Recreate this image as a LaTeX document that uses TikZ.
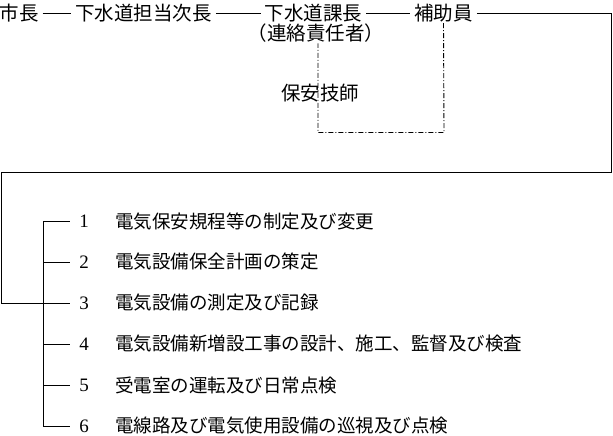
\documentclass[tikz,border=0pt]{standalone}
\usepackage{fontspec}
\newfontfamily\jp{Noto Sans CJK JP}
\newfontfamily\digitfont{Liberation Serif}
\begin{document}
\begin{tikzpicture}[x=1pt,y=1pt,
  top/.style={font=\jp\fontsize{19.5}{19.5}\selectfont, inner xsep=4pt, inner ysep=1pt},
  item/.style={font=\jp\fontsize{18.5}{18.5}\selectfont, anchor=west, inner sep=0pt},
  num/.style={font=\digitfont\fontsize{19}{19}\selectfont, minimum width=28pt, inner sep=0pt},
  conn/.style={line width=0.9pt},
  dashconn/.style={line width=0.9pt, dash pattern=on 5pt off 2pt on 1pt off 2pt}]
\useasboundingbox (0,0) rectangle (613,-436);
% top row
\node[top] (mayor) at (19,-13) {市長};
\node[top] (deputy) at (143.5,-13) {下水道担当次長};
\node[top] (chief) at (313.5,-13) {下水道課長};
\node[top] (asst) at (443.5,-13) {補助員};
\node[top] (liaison) at (316,-33) {（連絡責任者）};
\node[top] (eng) at (320,-93) {保安技師};
\draw[conn] (mayor) -- (deputy);
\draw[conn] (deputy) -- (chief);
\draw[conn] (chief) -- (asst);
% loop to list
\coordinate (tr) at (611.5,-13);
\coordinate (br) at (611.5,-172.5);
\coordinate (bl) at (1.5,-172.5);
\coordinate (ll) at (1.5,-303);
\coordinate (b1) at (43,-221);
\coordinate (b2) at (43,-262);
\coordinate (b3) at (43,-303);
\coordinate (b4) at (43,-344);
\coordinate (b5) at (43,-385);
\coordinate (b6) at (43,-426);
\draw[conn] (asst) -- (tr) -- (br) -- (bl) -- (ll) -- (b3);
% dashed engineer link
\coordinate (dr) at (444,-132.5);
\coordinate (dl) at (318,-132.5);
\draw[dashconn] (asst.south) -- (dr) -- (dl) -- (liaison.south -| dl);
% list
\draw[conn] (b1) -- (b6);
\node[num] (n1) at (84,-221) {1};
\node[num] (n2) at (84,-262) {2};
\node[num] (n3) at (84,-303) {3};
\node[num] (n4) at (84,-344) {4};
\node[num] (n5) at (84,-385) {5};
\node[num] (n6) at (84,-426) {6};
\foreach \i in {1,...,6} {\draw[conn] (b\i) -- (n\i.west);}
\node[item] (t1) at (115,-221) {電気保安規程等の制定及び変更};
\node[item] (t2) at (115,-262) {電気設備保全計画の策定};
\node[item] (t3) at (115,-303) {電気設備の測定及び記録};
\node[item] (t4) at (115,-344) {電気設備新増設工事の設計、施工、監督及び検査};
\node[item] (t5) at (115,-385) {受電室の運転及び日常点検};
\node[item] (t6) at (115,-426) {電線路及び電気使用設備の巡視及び点検};
\end{tikzpicture}
\end{document}
